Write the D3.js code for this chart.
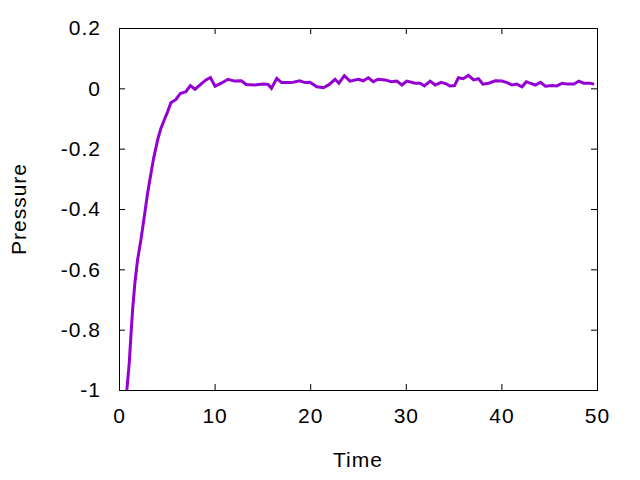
<!DOCTYPE html>
<html>
<head>
<meta charset="utf-8">
<script src="https://cdn.jsdelivr.net/npm/d3@7"></script>
<style>
  body { margin: 0; background: #fff; }
  text { font-family: "Liberation Sans", Arial, sans-serif; }
</style>
</head>
<body>
<div id="chart"></div>
<script>
// values
const time = [0.82, 1.07, 1.24, 1.42, 1.66, 1.94, 2.29, 2.64, 2.99, 3.34,
  3.62, 4.04, 4.38, 4.73, 5.08, 5.43, 5.96, 6.41, 7.0, 7.46,
  7.95, 8.57, 9.1, 9.56, 10.05, 10.7, 11.4, 12.1, 12.8, 13.3,
  14.2, 15.1, 15.6, 15.95, 16.5, 17.0, 18.05, 18.9, 19.45, 19.97,
  20.7, 21.4, 22.0, 22.6, 23.0, 23.57, 24.16, 25.03, 25.56, 26.08,
  26.6, 27.1, 27.8, 28.5, 29.05, 29.6, 30.1, 31.0, 31.5, 31.95,
  32.55, 33.07, 33.7, 34.3, 34.6, 35.1, 35.5, 36.0, 36.55, 37.1,
  37.6, 38.07, 38.66, 39.36, 40.06, 40.6, 41.1, 41.6, 42.16, 42.6,
  43.0, 43.55, 44.1, 44.6, 45.3, 45.8, 46.35, 46.9, 47.6, 48.1,
  48.6, 49.3, 49.7];

const pressure = [-1.0, -0.911, -0.823, -0.735, -0.646, -0.569, -0.503, -0.426, -0.348, -0.282,
  -0.232, -0.171, -0.133, -0.105, -0.078, -0.048, -0.037, -0.017, -0.011, 0.009,
  -0.003, 0.014, 0.028, 0.036, 0.007, 0.017, 0.030, 0.024, 0.025, 0.013,
  0.011, 0.014, 0.013, 0.0, 0.033, 0.019, 0.019, 0.025, 0.019, 0.020,
  0.005, 0.002, 0.013, 0.030, 0.017, 0.042, 0.024, 0.030, 0.025, 0.035,
  0.022, 0.030, 0.028, 0.022, 0.024, 0.011, 0.024, 0.017, 0.017, 0.008,
  0.024, 0.011, 0.020, 0.014, 0.008, 0.009, 0.035, 0.032, 0.043, 0.028,
  0.032, 0.014, 0.017, 0.025, 0.024, 0.019, 0.011, 0.014, 0.005, 0.022,
  0.017, 0.011, 0.020, 0.007, 0.009, 0.008, 0.017, 0.014, 0.014, 0.024,
  0.017, 0.017, 0.014];

const xTicks = [0, 10, 20, 30, 40, 50];
const yTicks = [-1, -0.8, -0.6, -0.4, -0.2, 0, 0.2];

const width = 640, height = 480,
  margin = { top: 28, bottom: 90, left: 119, right: 43 };
const w = width - margin.left - margin.right,
  h = height - margin.top - margin.bottom;

const fontSize = "21px", spacing = "1px";

const svg = d3.select("#chart")
  .append("svg")
    .attr("width", width)
    .attr("height", height)
  .append("g")
    .attr("transform", "translate(" + margin.left + "," + margin.top + ")");

const xScale = d3.scaleLinear().domain([0, 50]).range([0, w]);
const yScale = d3.scaleLinear().domain([-1, 0.2]).range([h, 0]);

// axes, gnuplot style: ticks point inward, mirrored on top/right
function styleAxis(g) {
  g.select(".domain").remove();
  g.selectAll("line").attr("stroke", "#000");
  g.selectAll("text")
    .attr("fill", "#000")
    .style("font-size", fontSize)
    .style("letter-spacing", spacing);
}

svg.append("g")
  .attr("transform", "translate(0," + h + ")")
  .call(d3.axisBottom(xScale).tickValues(xTicks).tickSize(-6).tickPadding(18).tickFormat(d => String(d)))
  .call(styleAxis);

svg.append("g")
  .call(d3.axisTop(xScale).tickValues(xTicks).tickSize(-6).tickFormat(""))
  .call(styleAxis);

svg.append("g")
  .call(d3.axisLeft(yScale).tickValues(yTicks).tickSize(-6).tickPadding(18).tickFormat(d => String(+d.toFixed(1))))
  .call(styleAxis);

svg.append("g")
  .attr("transform", "translate(" + w + ",0)")
  .call(d3.axisRight(yScale).tickValues(yTicks).tickSize(-6).tickFormat(""))
  .call(styleAxis);

// frame
svg.append("rect")
  .attr("x", 0.5)
  .attr("y", 0.5)
  .attr("width", w)
  .attr("height", h)
  .attr("fill", "none")
  .attr("stroke", "#000")
  .attr("stroke-width", 1);

// the line
const data = time.map((t, i) => ({ t: t, p: pressure[i] }));

svg.append("path")
  .datum(data)
  .attr("fill", "none")
  .attr("stroke", "#9400d3")
  .attr("stroke-width", 3)
  .attr("d", d3.line().x(d => xScale(d.t)).y(d => yScale(d.p)));

// axis labels
svg.append("text")
  .attr("x", w / 2)
  .attr("y", h + 77)
  .attr("text-anchor", "middle")
  .style("font-size", fontSize)
  .style("letter-spacing", spacing)
  .text("Time");

svg.append("text")
  .attr("transform", "translate(" + (26 - margin.left) + "," + (h / 2) + ") rotate(-90)")
  .attr("text-anchor", "middle")
  .style("font-size", fontSize)
  .style("letter-spacing", spacing)
  .text("Pressure");
</script>
</body>
</html>
